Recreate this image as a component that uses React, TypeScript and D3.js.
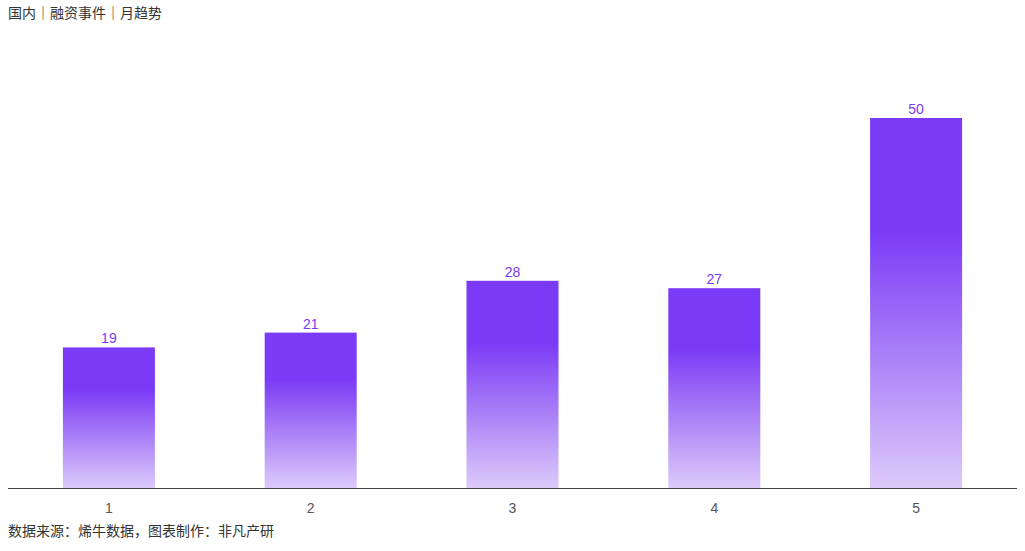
import React from "react";
import * as d3 from "d3";

const categories = ["1", "2", "3", "4", "5"];
const values = [19, 21, 28, 27, 50];
const title = "国内｜融资事件｜月趋势";
const footer = "数据来源：烯牛数据，图表制作：非凡产研";

const W = 1025;
const H = 551;
const FONT = "'Liberation Sans', 'Noto Sans CJK SC', sans-serif";

export default function App() {
  const x = d3.scaleBand<string>().domain(categories).range([8, 1017]).paddingInner(0.544).paddingOuter(0.272);
  const y = d3.scaleLinear().domain([0, 50]).range([488, 118]);
  return (
    <svg width={W} height={H} style={{ position: "absolute", left: 0, top: 0, display: "block" }} fontFamily={FONT}>
      <defs>
        <linearGradient id="barGrad" x1="0" y1="0" x2="0" y2="1">
          <stop offset="0" stopColor="#7b3af5" />
          <stop offset="0.3" stopColor="#7b3af5" />
          <stop offset="1" stopColor="#dccafa" />
        </linearGradient>
      </defs>
      <text x={8} y={18} fontSize={14} fill="#333">{title}</text>
      {categories.map((c, i) => (
        <g key={c}>
          <rect x={x(c)} y={y(values[i])} width={x.bandwidth()} height={y(0) - y(values[i])} fill="url(#barGrad)" />
          <text x={(x(c) as number) + x.bandwidth() / 2} y={y(values[i]) - 4} textAnchor="middle" fontSize={14} fill="#7b3af5">{values[i]}</text>
          <text x={(x(c) as number) + x.bandwidth() / 2} y={513} textAnchor="middle" fontSize={14} fill="#555">{c}</text>
        </g>
      ))}
      <line x1={8} x2={1017} y1={488.5} y2={488.5} stroke="#444" strokeWidth={1} />
      <text x={8} y={536} fontSize={14} fill="#333">{footer}</text>
    </svg>
  );
}
